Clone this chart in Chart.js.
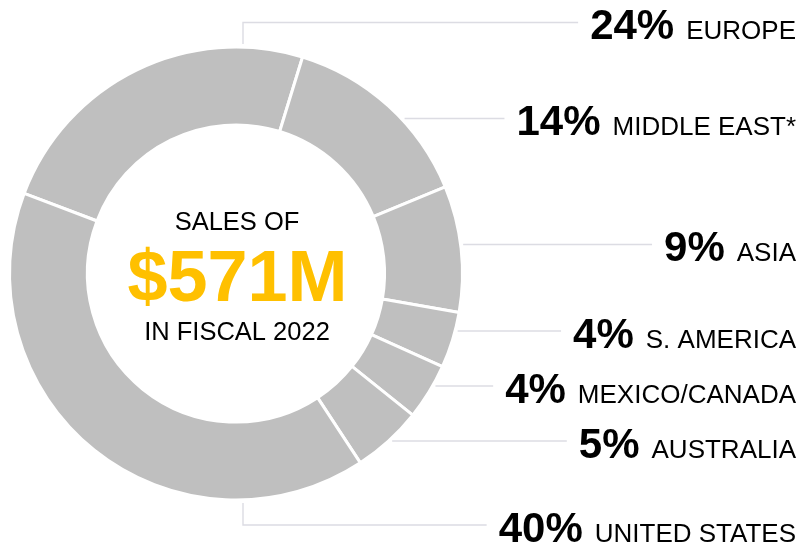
<!DOCTYPE html>
<html>
<head>
<meta charset="utf-8">
<script src="https://cdn.jsdelivr.net/npm/chart.js@4.4.0/dist/chart.umd.min.js"></script>
<style>
  html, body { margin: 0; padding: 0; background: #fff; }
  #wrap { width: 802px; height: 545px; }
</style>
</head>
<body>
<div id="wrap"><canvas id="salesChart" width="802" height="545"></canvas></div>
<script>
// Sales by region, fiscal 2022 (percent of total)
const regions = ['EUROPE', 'MIDDLE EAST*', 'ASIA', 'S. AMERICA', 'MEXICO/CANADA', 'AUSTRALIA', 'UNITED STATES'];
const shares = [24, 14, 9, 4, 4, 5, 40];
const centerLines = ['SALES OF', '$571M', 'IN FISCAL 2022'];

// y of each callout row on the right
const labelRows = [22.5, 118.5, 244.5, 331, 386, 441, 525];

const FONT = '"Liberation Sans", Arial, sans-serif';

// Draw centre text and the callout labels with leader lines
const calloutPlugin = {
    id: 'callouts',
    afterDraw(chart) {
        const ctx = chart.ctx;
        const arc = chart.getDatasetMeta(0).data[0];
        const cx = arc.x, cy = arc.y, r = arc.outerRadius;
        const rightEdge = 796;

        ctx.save();

        // centre text
        ctx.textAlign = 'center';
        ctx.textBaseline = 'alphabetic';
        ctx.fillStyle = '#000';
        ctx.font = '25.5px ' + FONT;
        ctx.fillText(centerLines[0], cx + 1, 230);
        ctx.fillText(centerLines[2], cx + 1, 340);
        ctx.fillStyle = '#FFC000';
        ctx.font = 'bold 72px ' + FONT;
        ctx.fillText(centerLines[1], cx + 1.5, 301);

        // callouts
        ctx.textAlign = 'left';
        regions.forEach((name, i) => {
            const y = labelRows[i];
            const pct = shares[i] + '%';

            ctx.font = '26px ' + FONT;
            const nameW = ctx.measureText(name).width;
            ctx.font = 'bold 42px ' + FONT;
            const pctW = ctx.measureText(pct).width;

            const nameX = rightEdge - nameW;
            const pctX = nameX - 12 - pctW;
            const base = y + 16.5;

            ctx.fillStyle = '#000';
            ctx.fillText(pct, pctX, base);
            ctx.font = '26px ' + FONT;
            ctx.fillText(name, nameX, base);

            // leader line
            const endX = pctX - 12;
            ctx.strokeStyle = '#dcdce3';
            ctx.lineWidth = 1.4;
            ctx.beginPath();
            const dy = y - cy;
            if (Math.abs(dy) < r) {
                const startX = cx + Math.sqrt((r + 2.5) * (r + 2.5) - dy * dy);
                ctx.moveTo(startX, y);
                ctx.lineTo(endX, y);
            } else {
                const elbowX = cx + 7;
                const startY = dy < 0 ? cy - r - 3 : cy + r + 3;
                ctx.moveTo(elbowX, startY);
                ctx.lineTo(elbowX, y);
                ctx.lineTo(endX, y);
            }
            ctx.stroke();
        });

        ctx.restore();
    }
};

const ctx = document.getElementById('salesChart');

new Chart(ctx, {
    type: 'doughnut',
    data: {
        labels: regions,
        datasets: [{
            data: shares,
            backgroundColor: '#bfbfbf',
            borderColor: '#ffffff',
            borderWidth: 3,
            hoverOffset: 0,
            offset: 0
        }]
    },
    options: {
        responsive: false,
        animation: false,
        devicePixelRatio: 1,
        rotation: -69.3,
        radius: 226.5,
        cutout: '65.6%',
        layout: {
            padding: { left: 0, right: 330, top: 2, bottom: 0 }
        },
        plugins: {
            legend: { display: false },
            tooltip: { enabled: false }
        }
    },
    plugins: [calloutPlugin]
});
</script>
</body>
</html>
